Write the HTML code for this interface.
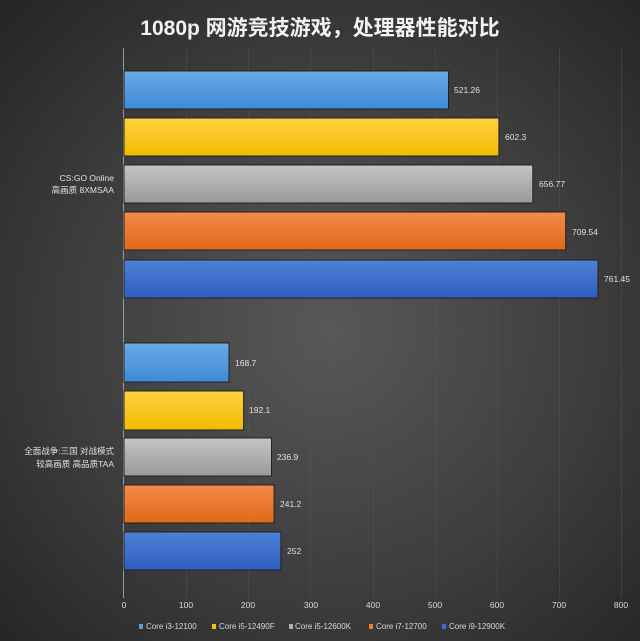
<!DOCTYPE html>
<html><head><meta charset="utf-8"><style>
html,body{margin:0;padding:0;background:#2c2c2c}
svg{display:block}
text{font-family:"Liberation Sans","Noto Sans CJK SC",sans-serif}
</style></head><body>
<svg width="640" height="641" viewBox="0 0 640 641" xmlns="http://www.w3.org/2000/svg">
<defs>
<radialGradient id="bg" cx="330" cy="330" r="450" gradientUnits="userSpaceOnUse">
<stop offset="0" stop-color="#585858"/><stop offset="0.6" stop-color="#3c3c3c"/><stop offset="1" stop-color="#262626"/>
</radialGradient>
<linearGradient id="g1" x1="0" y1="0" x2="0" y2="1"><stop offset="0" stop-color="#6aaae6"/><stop offset="1" stop-color="#3f8ad6"/></linearGradient>
<linearGradient id="g2" x1="0" y1="0" x2="0" y2="1"><stop offset="0" stop-color="#ffd040"/><stop offset="1" stop-color="#f0bc00"/></linearGradient>
<linearGradient id="g3" x1="0" y1="0" x2="0" y2="1"><stop offset="0" stop-color="#c4c4c4"/><stop offset="1" stop-color="#9a9a9a"/></linearGradient>
<linearGradient id="g4" x1="0" y1="0" x2="0" y2="1"><stop offset="0" stop-color="#f58a48"/><stop offset="1" stop-color="#e0681a"/></linearGradient>
<linearGradient id="g5" x1="0" y1="0" x2="0" y2="1"><stop offset="0" stop-color="#4e80d8"/><stop offset="1" stop-color="#2e5fc0"/></linearGradient>
</defs>
<rect width="640" height="641" fill="url(#bg)"/>
<text x="320" y="35" text-anchor="middle" font-size="21" font-weight="bold" fill="#f2f2f2">1080p 网游竞技游戏，处理器性能对比</text>
<g stroke="#5a5a5a" stroke-width="1" opacity="0.4">
<line x1="186.5" y1="48" x2="186.5" y2="598"/><line x1="248.5" y1="48" x2="248.5" y2="598"/>
<line x1="310.5" y1="48" x2="310.5" y2="598"/><line x1="373.5" y1="48" x2="373.5" y2="598"/>
<line x1="435.5" y1="48" x2="435.5" y2="598"/><line x1="497.5" y1="48" x2="497.5" y2="598"/>
<line x1="559.5" y1="48" x2="559.5" y2="598"/><line x1="621.5" y1="48" x2="621.5" y2="598"/>
</g>
<line x1="123.5" y1="48" x2="123.5" y2="598" stroke="#9a9a9a"/>
<g stroke="#222" stroke-width="1">
<rect x="124" y="71" width="324.5" height="38" fill="url(#g1)"/>
<rect x="124" y="118" width="374.9" height="38" fill="url(#g2)"/>
<rect x="124" y="165" width="408.8" height="38" fill="url(#g3)"/>
<rect x="124" y="212" width="441.7" height="38" fill="url(#g4)"/>
<rect x="124" y="260" width="474" height="38" fill="url(#g5)"/>
<rect x="124" y="343" width="105" height="39" fill="url(#g1)"/>
<rect x="124" y="391" width="119.6" height="39" fill="url(#g2)"/>
<rect x="124" y="438" width="147.5" height="38" fill="url(#g3)"/>
<rect x="124" y="485" width="150.1" height="38" fill="url(#g4)"/>
<rect x="124" y="532" width="156.9" height="38" fill="url(#g5)"/>
</g>
<g font-size="8.5" fill="#e0e0e0">
<text x="454" y="93">521.26</text>
<text x="505" y="140">602.3</text>
<text x="539" y="187">656.77</text>
<text x="572" y="235">709.54</text>
<text x="604" y="282">761.45</text>
<text x="235" y="366">168.7</text>
<text x="249" y="413">192.1</text>
<text x="277" y="460">236.9</text>
<text x="280" y="507">241.2</text>
<text x="287" y="554">252</text>
</g>
<g font-size="8.5" fill="#e0e0e0" text-anchor="end">
<text x="114" y="181">CS:GO Online</text>
<text x="114" y="193">高画质 8XMSAA</text>
<text x="114" y="454">全面战争:三国 对战模式</text>
<text x="114" y="467">较高画质 高品质TAA</text>
</g>
<g font-size="8.5" fill="#d8d8d8" text-anchor="middle">
<text x="124" y="608">0</text><text x="186" y="608">100</text><text x="248" y="608">200</text>
<text x="311" y="608">300</text><text x="373" y="608">400</text><text x="435" y="608">500</text>
<text x="497" y="608">600</text><text x="559" y="608">700</text><text x="621" y="608">800</text>
</g>
<g font-size="8" fill="#d8d8d8">
<rect x="139" y="624" width="4" height="5" fill="#5b9be0"/><text x="146" y="629">Core i3-12100</text>
<rect x="212" y="624" width="4" height="5" fill="#f5c400"/><text x="219" y="629">Core i5-12490F</text>
<rect x="289" y="624" width="4" height="5" fill="#b0b0b0"/><text x="295" y="629">Core i5-12600K</text>
<rect x="369" y="624" width="4" height="5" fill="#ee7a2c"/><text x="376" y="629">Core i7-12700</text>
<rect x="442" y="624" width="4" height="5" fill="#3a6cd0"/><text x="449" y="629">Core i9-12900K</text>
</g>
</svg>
</body></html>
